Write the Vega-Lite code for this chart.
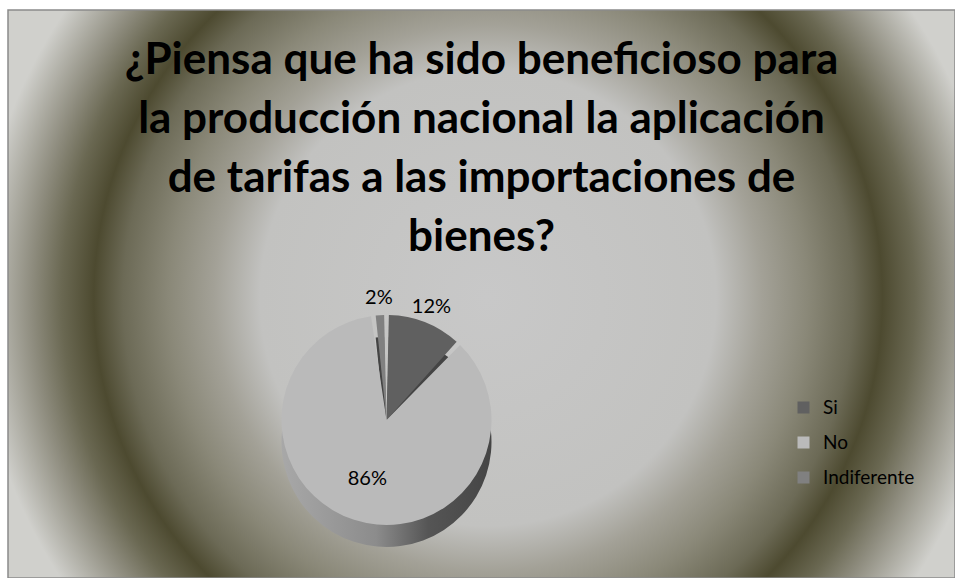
{
  "$schema": "https://vega.github.io/schema/vega-lite/v6.json",
  "autosize": "none",
  "padding": {"left": 8, "top": 10, "right": 0, "bottom": 0},
  "width": 947,
  "height": 568,
  "background": "#ffffff",
  "config": {"view": {"stroke": null}, "font": "Lato"},
  "title": {
    "text": ["¿Piensa que ha sido beneficioso para", "la producción nacional la aplicación", "de tarifas a las importaciones de", "bienes?"],
    "orient": "top",
    "anchor": "middle",
    "baseline": "alphabetic",
    "offset": -286,
    "font": "Lato",
    "fontSize": 44,
    "fontWeight": "bold",
    "lineHeight": 59,
    "color": "#000000"
  },
  "data": {
    "values": [
      {"respuesta": "Si", "valor": 0.12, "orden": 1},
      {"respuesta": "No", "valor": 0.86, "orden": 2},
      {"respuesta": "Indiferente", "valor": 0.02, "orden": 3}
    ]
  },
  "layer": [
    {
      "data": {"values": [{}]},
      "mark": {
        "type": "rect",
        "stroke": "#8a8a8a",
        "strokeWidth": 1.5,
        "fill": {
          "gradient": "radial",
          "x1": 0.507, "y1": 0.504, "r1": 0,
          "x2": 0.507, "y2": 0.504, "r2": 0.54,
          "stops": [
            {"offset": 0, "color": "#c8c8c8"},
            {"offset": 0.446, "color": "#c2c2c0"},
            {"offset": 0.536, "color": "#a3a197"},
            {"offset": 0.625, "color": "#8a8878"},
            {"offset": 0.714, "color": "#6c6a56"},
            {"offset": 0.771, "color": "#4d4a30"},
            {"offset": 0.834, "color": "#6a6852"},
            {"offset": 0.893, "color": "#8e8c7e"},
            {"offset": 1, "color": "#d0d0cc"}
          ]
        }
      },
      "encoding": {}
    },
    {
      "mark": {"type": "arc", "radius": 105, "padAngle": 0.045, "xOffset": -95, "yOffset": 148},
      "encoding": {
        "theta": {"field": "valor", "type": "quantitative", "stack": true},
        "order": {"field": "orden", "type": "quantitative"},
        "fill": {
          "condition": {
            "test": "datum.respuesta === 'No'",
            "value": {
              "gradient": "linear", "x1": 0, "y1": 0, "x2": 1, "y2": 0,
              "stops": [
                {"offset": 0, "color": "#a8a8a8"},
                {"offset": 0.45, "color": "#8c8c8c"},
                {"offset": 0.7, "color": "#555555"},
                {"offset": 1, "color": "#454545"}
              ]
            }
          },
          "value": "#444444"
        }
      }
    },
    {
      "mark": {"type": "arc", "radius": 105, "padAngle": 0.045, "xOffset": -95, "yOffset": 126},
      "encoding": {
        "theta": {"field": "valor", "type": "quantitative", "stack": true},
        "order": {"field": "orden", "type": "quantitative"},
        "color": {
          "field": "respuesta",
          "type": "nominal",
          "scale": {"domain": ["Si", "No", "Indiferente"], "range": ["#606060", "#bababa", "#808080"]},
          "legend": {
            "title": null,
            "orient": "none",
            "legendX": 786,
            "legendY": 388,
            "symbolType": "square",
            "symbolSize": 144,
            "symbolStrokeWidth": 0,
            "labelFont": "Lato",
            "labelFontSize": 19,
            "labelColor": "#000000",
            "labelOffset": 10,
            "rowPadding": 15,
            "padding": 0
          }
        }
      }
    },
    {
      "mark": {"type": "text", "font": "Lato", "fontSize": 20, "color": "#000000", "radius": 122, "xOffset": -95, "yOffset": 126},
      "encoding": {
        "theta": {"field": "valor", "type": "quantitative", "stack": true},
        "order": {"field": "orden", "type": "quantitative"},
        "text": {"condition": {"test": "datum.valor < 0.5", "field": "valor", "type": "quantitative", "format": ".0%"}, "value": ""}
      }
    },
    {
      "mark": {"type": "text", "font": "Lato", "fontSize": 20, "color": "#000000", "radius": 62, "xOffset": -95, "yOffset": 126},
      "encoding": {
        "theta": {"field": "valor", "type": "quantitative", "stack": true},
        "order": {"field": "orden", "type": "quantitative"},
        "text": {"condition": {"test": "datum.valor >= 0.5", "field": "valor", "type": "quantitative", "format": ".0%"}, "value": ""}
      }
    }
  ]
}
